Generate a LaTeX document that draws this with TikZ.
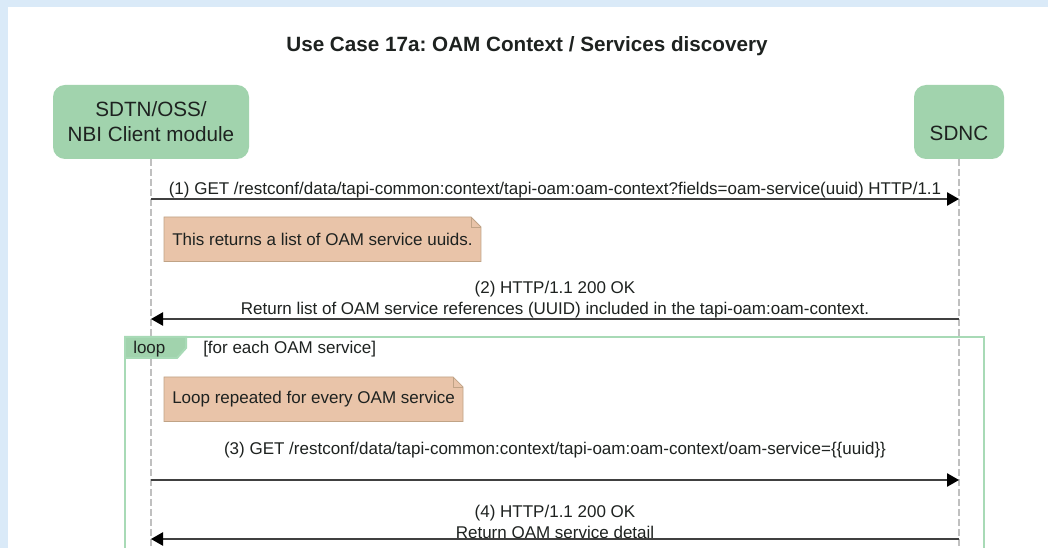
\documentclass[tikz,border=0pt]{standalone}
\usepackage{fontspec}
\setmainfont{Liberation Sans}
\usetikzlibrary{positioning,arrows.meta,calc,backgrounds}
\definecolor{seqPage}{RGB}{218,234,248}
\definecolor{seqGreen}{RGB}{161,211,173}
\definecolor{seqFrame}{RGB}{168,218,182}
\definecolor{seqInk}{RGB}{30,34,32}
\definecolor{seqNote}{RGB}{233,196,169}
\definecolor{seqNoteLine}{RGB}{192,163,134}
\definecolor{seqLine}{RGB}{64,64,64}
\definecolor{seqLife}{RGB}{192,192,192}
\frenchspacing

\begin{document}
\begin{tikzpicture}[x=0.75pt,y=-0.75pt,
      actor/.style={fill=seqGreen,rounded corners=9pt,minimum height=55.5pt,align=center,text=seqInk,font=\fontsize{15.5}{18.75}\selectfont},
      life/.style={draw=seqLife,line width=0.8pt,dash pattern=on 5pt off 2.5pt},
      msg/.style={draw=seqLine,line width=1.1pt,-{Triangle[length=9pt,width=10pt,color=black]}},
      lbl/.style={align=center,text=seqInk,inner xsep=1.5pt,inner ysep=0pt,font=\fontsize{12.75}{15.75}\selectfont},
      note/.style={anchor=north west,minimum height=33pt,inner xsep=6pt,text=seqInk,font=\fontsize{12.75}{15.75}\selectfont},
      notebox/.style={fill=seqNote,draw=seqNoteLine,line width=0.6pt},
      frame/.style={draw=seqFrame,line width=1.5pt}]
    \useasboundingbox (0,0) rectangle (1048,548);
    \clip (0,0) rectangle (1048,548);
    \node[font=\fontsize{15.5}{18}\selectfont\bfseries,text=seqInk] (title) at (527,46) {Use Case 17a: OAM Context / Services discovery};
    \node[actor,minimum width=147pt] (client) at (151,122) {SDTN/OSS/\\NBI Client module};
    \node[actor,minimum width=67.5pt,text height=31.25pt,text depth=3.75pt] (sdnc) at (959,122) {SDNC};
    \coordinate (end) at (0,548);
    \draw[life] (client.south) -- (client |- end);
    \draw[life] (sdnc.south) -- (sdnc |- end);
    \coordinate (m1) at (0,199);
    \coordinate (m2) at (0,319);
    \coordinate (m3) at (0,480);
    \coordinate (m4) at (0,539);
    \draw[msg] (client |- m1) -- node[lbl,above] (l1) {(1) GET /restconf/data/tapi-common:context/tapi-oam:oam-context?fields=oam-service(uuid) HTTP/1.1} (sdnc |- m1);
    \node[note] (n1) at (164,217) {This returns a list of OAM service uuids.};
    \draw[msg] (sdnc |- m2) -- node[lbl,above] (l2) {(2) HTTP/1.1 200 OK\\Return list of OAM service references (UUID) included in the tapi-oam:oam-context.} (client |- m2);
    \draw[frame] (125,565) |- (984,337) -- (984,565);
    \filldraw[frame,fill=seqGreen] (125,337) -- (186,337) -- (186,348) -- (177,358) -- (125,358) -- cycle;
    \node[lbl,anchor=west] (loop) at (131,349) {loop};
    \node[lbl,anchor=west] (guard) at (201,349) {[for each OAM service]};
    \node[note] (n2) at (164,377) {Loop repeated for every OAM service};
    \draw[msg] (client |- m3) -- node[lbl,above,yshift=15.75pt] (l3) {(3) GET /restconf/data/tapi-common:context/tapi-oam:oam-context/oam-service=\{\{uuid\}\}} (sdnc |- m3);
    \draw[msg] (sdnc |- m4) -- node[lbl,above] (l4) {(4) HTTP/1.1 200 OK\\Return OAM service detail} (client |- m4);
    \begin{scope}[on background layer]
      \fill[seqPage] (0,0) rectangle (1048,548);
      \fill[white] (8,7) rectangle (1048,548);
      \foreach \n in {n1,n2} {
        \filldraw[notebox] (\n.north west) -- ([xshift=-7.5pt]\n.north east) -- ([yshift=-7.5pt]\n.north east) -- (\n.south east) -- (\n.south west) -- cycle;
        \draw[seqNoteLine,line width=0.6pt] ([xshift=-7.5pt]\n.north east) |- ([yshift=-7.5pt]\n.north east);
      }
    \end{scope}
  \end{tikzpicture}
\end{document}
